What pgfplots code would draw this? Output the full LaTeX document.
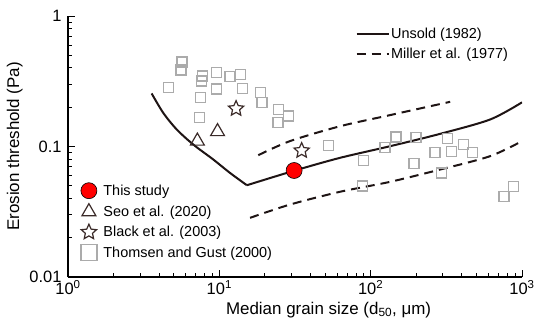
\documentclass[border=0pt]{standalone}
\usepackage{fontspec}
\setmainfont{Liberation Sans}
\usepackage{pgfplots}
\pgfplotsset{compat=1.18}
\definecolor{sqgray}{HTML}{ABABAB}
\definecolor{dk}{HTML}{1E1414}
\definecolor{mk}{HTML}{3A2A28}
\pgfdeclareplotmark{ostar}{%
  \pgfpathmoveto{\pgfqpointpolar{90}{\pgfplotmarksize}}%
  \pgfpathlineto{\pgfqpointpolar{126}{0.47\pgfplotmarksize}}%
  \pgfpathlineto{\pgfqpointpolar{162}{\pgfplotmarksize}}%
  \pgfpathlineto{\pgfqpointpolar{198}{0.47\pgfplotmarksize}}%
  \pgfpathlineto{\pgfqpointpolar{234}{\pgfplotmarksize}}%
  \pgfpathlineto{\pgfqpointpolar{270}{0.47\pgfplotmarksize}}%
  \pgfpathlineto{\pgfqpointpolar{306}{\pgfplotmarksize}}%
  \pgfpathlineto{\pgfqpointpolar{342}{0.47\pgfplotmarksize}}%
  \pgfpathlineto{\pgfqpointpolar{18}{\pgfplotmarksize}}%
  \pgfpathlineto{\pgfqpointpolar{54}{0.47\pgfplotmarksize}}%
  \pgfpathclose
  \pgfusepathqstroke}
\pgfplotsset{bigsq legend/.style={legend image code/.code={\draw[mark repeat=2,mark phase=2,##1,mark size=8bp] plot coordinates {(0cm,0cm) (0.3cm,0cm) (0.6cm,0cm)};}}}
\begin{document}
\begin{tikzpicture}
\begin{axis}[
  at={(0,0)}, anchor=south west,
  scale only axis, width=454bp, height=261bp,
  xmode=log, ymode=log,
  xmin=1, xmax=1000, ymin=0.01, ymax=1,
  enlargelimits=false,
  axis lines=left, axis line style={-, line width=1.2bp, black},
  tick align=inside,
  major tick length=7bp, minor tick length=4bp,
  every tick/.style={black, line width=0.9bp},
  xtick={1,10,100,1000},
  xticklabels={10\textsuperscript{0},10\textsuperscript{1},10\textsuperscript{2},10\textsuperscript{3}},
  minor xtick={2,3,4,5,6,7,8,9,20,30,40,50,60,70,80,90,200,300,400,500,600,700,800,900},
  ytick={0.01,0.1,1},
  yticklabels={0.01,0.1,1},
  minor ytick={0.02,0.03,0.04,0.05,0.06,0.07,0.08,0.09,0.2,0.3,0.4,0.5,0.6,0.7,0.8,0.9},
  tick label style={font=\fontsize{16.5}{18}\selectfont},
  yticklabel style={xshift=-3bp},
  label style={font=\fontsize{17}{19}\selectfont},
  xlabel={Median grain size (d\textsubscript{50}, μm)},
  ylabel={Erosion threshold (Pa)},
  xlabel style={at={(ticklabel cs:0.574)}, anchor=near ticklabel},
  legend style={at={(rel axis cs:0.633,0.893)}, anchor=west, draw=none, fill=none,
    font=\fontsize{14.5}{16}\selectfont, inner sep=0pt, row sep=5bp,
    nodes={inner sep=1.5bp}},
  legend cell align=left,
  legend image code/.code={\draw[#1] (0bp,0bp) -- (32bp,0bp);},
]
\addplot[dk, line width=2bp, smooth, tension=0.5] coordinates {
(3.57,0.255) (4.26,0.181) (5.23,0.135) (6.73,0.1035) (9.12,0.0795) (11.73,0.0629) (15.2,0.0505)};
\addlegendentry{Unsold (1982)}
\addplot[dk, line width=2bp, dash pattern=on 9bp off 6bp, smooth, tension=0.5] coordinates {
(18.1,0.0858) (29.3,0.110) (62.8,0.143) (134.3,0.174) (335,0.220)};
\addlegendentry{Miller et al. (1977)}
\addplot[dk, line width=2bp, smooth, tension=0.5, forget plot] coordinates {
(15.2,0.0505) (31.6,0.0655) (62.8,0.0819) (134.3,0.1005) (287.5,0.125) (615,0.161) (1000,0.218)};
\addplot[dk, line width=2bp, dash pattern=on 9bp off 6bp, smooth, tension=0.5, forget plot] coordinates {
(15.96,0.0284) (29.3,0.0359) (62.8,0.0450) (134.3,0.0536) (287.5,0.0666) (615,0.0843) (1000,0.110)};
\end{axis}
\begin{axis}[
  at={(0,0)}, anchor=south west,
  scale only axis, width=454bp, height=261bp,
  xmode=log, ymode=log,
  xmin=1, xmax=1000, ymin=0.01, ymax=1,
  enlargelimits=false, hide axis, clip=false,
  legend style={at={(rel axis cs:0.028,0.212)}, anchor=west, draw=none, fill=none,
    font=\fontsize{14.5}{16}\selectfont, inner sep=0pt, row sep=5bp,
    nodes={inner sep=1.5bp},
    /tikz/every odd column/.append style={column sep=5bp}},
  legend cell align=left,
]
\addplot[only marks, mark=*, mark size=8bp, mark options={fill=red, draw=black, line width=0.6bp}] coordinates {(31.2,0.0655)};
\addlegendentry{This study}
\addplot[only marks, mark=triangle, mark size=8bp, mark options={draw=mk, fill=none, line width=1.2bp}] coordinates {(7.16,0.110) (9.73,0.130)};
\addlegendentry{Seo et al. (2020)}
\addplot[only marks, mark=ostar, mark size=8bp, mark options={draw=mk, fill=none, line width=1.2bp}] coordinates {(12.9,0.195) (35.0,0.093)};
\addlegendentry{Black et al. (2003)}
\addplot[only marks, mark=square, mark size=5bp, mark options={draw=sqgray, fill=none, line width=1.3bp}, bigsq legend] coordinates {
(5.67,0.444) (5.58,0.385) (4.62,0.284) (7.77,0.347) (7.65,0.318) (9.61,0.367)
(11.77,0.344) (13.85,0.358) (9.61,0.276) (14.19,0.277) (7.49,0.236) (18.7,0.258)
(19.15,0.217) (24.5,0.192) (28.5,0.171) (24.4,0.153) (7.40,0.167) (52.5,0.102)
(89.5,0.0785) (124.5,0.0977) (147,0.118) (199.6,0.117) (193.6,0.0741) (266.6,0.0895)
(323,0.1146) (343.6,0.092) (410,0.1036) (473,0.0895) (294,0.0626) (88.4,0.0498)
(880,0.0491) (762,0.0416)};
\addlegendentry{Thomsen and Gust (2000)}
\end{axis}
\pgfresetboundingbox
\path[use as bounding box] (-68bp,-45bp) rectangle (469bp,277bp);
\end{tikzpicture}
\end{document}
